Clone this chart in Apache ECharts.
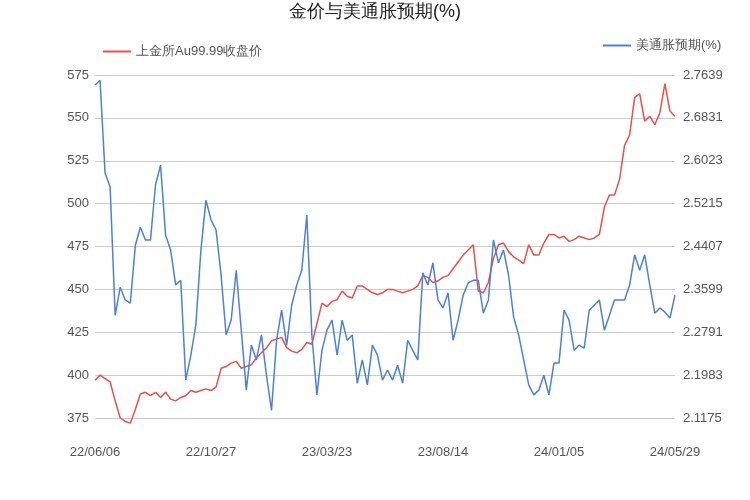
<!DOCTYPE html>
<html><head><meta charset="utf-8">
<script src="https://cdn.jsdelivr.net/npm/echarts@6/dist/echarts.min.js"></script>
<style>html,body{margin:0;padding:0;background:#fff}#c{width:750px;height:500px}</style>
</head><body><div id="c"></div>
<script>
const tickLabels = ["22/06/06","22/10/27","23/03/23","23/08/14","24/01/05","24/05/29"];
const gold = [397,400,398,396,385,375,373,372,380,389,390,388,390,387,390,386,385,387,388,391,390,391,392,391,393,404,405,407,408,404,405,406,410,413,416,420,421,422,416,414,413,415,419,418,430,442,440,443,444,449,446,445,452,452,450,448,447,448,450,450,449,448,449,450,452,458,457,454,455,457,458,462,466,470,473,476,449,448,454,468,476,477,472,469,467,465,476,470,470,477,482,482,480,481,478,479,481,480,479,480,482,498,505,505,514,534,540,562,564,548,551,546,553,570,554,551];
const infl = [2.745,2.754,2.579,2.553,2.311,2.364,2.340,2.334,2.443,2.477,2.453,2.453,2.557,2.594,2.462,2.434,2.368,2.377,2.189,2.236,2.293,2.434,2.528,2.491,2.472,2.387,2.274,2.302,2.396,2.283,2.170,2.255,2.227,2.274,2.198,2.132,2.264,2.321,2.255,2.330,2.368,2.396,2.500,2.274,2.161,2.245,2.283,2.302,2.236,2.302,2.264,2.274,2.183,2.227,2.180,2.255,2.236,2.189,2.208,2.189,2.217,2.183,2.264,2.245,2.227,2.391,2.368,2.410,2.340,2.325,2.353,2.264,2.302,2.349,2.372,2.377,2.377,2.315,2.340,2.453,2.410,2.434,2.387,2.308,2.274,2.227,2.180,2.161,2.170,2.198,2.161,2.221,2.221,2.321,2.302,2.245,2.255,2.249,2.321,2.330,2.340,2.283,2.311,2.340,2.340,2.340,2.368,2.425,2.396,2.425,2.368,2.315,2.325,2.317,2.306,2.349];
const step = 23;
const categories = gold.map((_, i) => i % step === 0 ? tickLabels[i / step] : String(i));
const chart = echarts.init(document.getElementById('c'));
chart.setOption({
  animation: false,
  title: {text: '金价与美通胀预期(%)', left: 'center', top: -2, textStyle: {fontSize: 18, fontWeight: 'normal', color: '#222'}},
  legend: [
    {data: [{name: '上金所Au99.99收盘价', icon: 'rect'}], left: 98, top: 40, itemWidth: 28, itemHeight: 2, textStyle: {color: '#555', fontSize: 13}},
    {data: [{name: '美通胀预期(%)', icon: 'rect'}], left: 598, top: 34, itemWidth: 28, itemHeight: 2, textStyle: {color: '#555', fontSize: 13}}
  ],
  grid: {left: 95, right: 75, top: 75, bottom: 82},
  xAxis: {type: 'category', data: categories, boundaryGap: false,
    axisLine: {show: false}, axisTick: {show: false},
    axisLabel: {interval: (i) => i % step === 0, color: '#555', fontSize: 13, margin: 28, showMinLabel: true, showMaxLabel: true}},
  yAxis: [
    {type: 'value', min: 375, max: 575, interval: 25, axisLine: {show: false}, axisTick: {show: false},
     axisLabel: {color: '#555', fontSize: 13, margin: 6}, splitLine: {lineStyle: {color: '#ccc'}}},
    {type: 'value', min: 2.1175, max: 2.7639, interval: 0.0808, axisLine: {show: false}, axisTick: {show: false},
     axisLabel: {color: '#555', fontSize: 13, formatter: v => v.toFixed(4)}, splitLine: {show: false}}
  ],
  series: [
    {name: '上金所Au99.99收盘价', type: 'line', clip: false, data: gold, yAxisIndex: 0, symbol: 'none', lineStyle: {color: '#e8504a', width: 1.5}, itemStyle: {color: '#e8504a'}},
    {name: '美通胀预期(%)', type: 'line', clip: false, data: infl, yAxisIndex: 1, symbol: 'none', lineStyle: {color: '#4a80e0', width: 1.5}, itemStyle: {color: '#4a80e0'}}
  ]
});
</script></body></html>
